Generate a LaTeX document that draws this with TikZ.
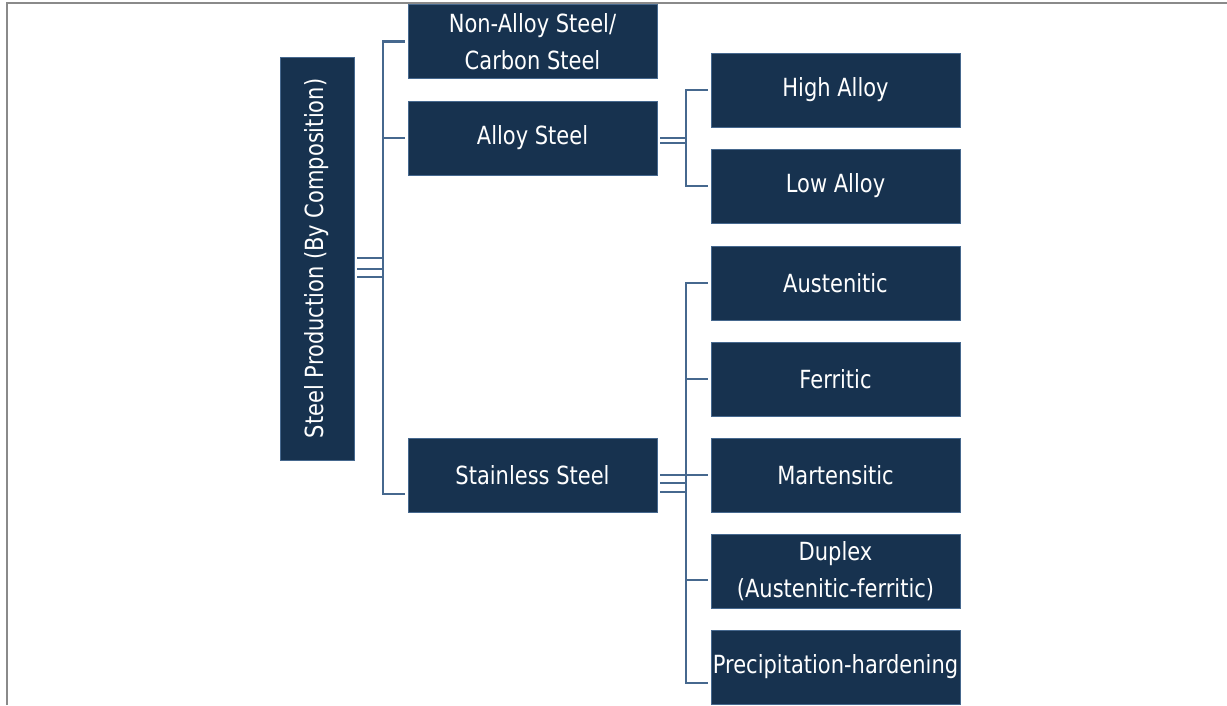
\documentclass[tikz,border=0pt]{standalone}
\usepackage{fontspec}
\setmainfont{DejaVu Sans}[FakeStretch=0.84]
\usepackage{tikz}
\definecolor{navy}{HTML}{17324F}
\definecolor{edge}{HTML}{46688E}
\definecolor{framegray}{HTML}{8A8A8A}
\tikzset{
  box/.style={fill=navy,draw=edge,line width=0.6pt,text=white,
    minimum width=249pt,minimum height=74pt,inner sep=0pt,align=center,
    font=\fontsize{25}{37}\selectfont},
  link/.style={draw=edge,line width=2.2pt},
}

\begin{document}
\begin{tikzpicture}[x=1pt,y=-1pt]
\useasboundingbox (0,0) rectangle (1227,705);
\draw[framegray,line width=2pt] (7,705) -- (7,3) -- (1227,3);
%Boxes
\node[box,minimum width=74pt,minimum height=403pt] (root) at (317,258.5)
  {\rotatebox{90}{Steel Production (By Composition)}};
\node[box] (nonalloy) at (532.5,41.5) {Non-Alloy Steel/\\Carbon Steel};
\node[box] (alloy) at (532.5,138) {Alloy Steel};
\node[box] (stainless) at (532.5,475) {Stainless Steel};
\node[box] (high) at (835.5,90) {High Alloy};
\node[box] (low) at (835.5,186) {Low Alloy};
\node[box] (aust) at (835.5,283) {Austenitic};
\node[box] (ferr) at (835.5,379) {Ferritic};
\node[box] (mart) at (835.5,475) {Martensitic};
\node[box] (dup) at (835.5,571) {Duplex\\(Austenitic-ferritic)};
\node[box] (prec) at (835.5,667) {Precipitation-hardening};
%Spines
\coordinate (s1) at (383,268);
\coordinate (s2) at (686,140);
\coordinate (s3) at (686,483);
%Root links
\draw[link] ([xshift=-3pt]nonalloy.west) -| (s1) |- ([xshift=-3pt,yshift=-19pt]stainless.west);
\draw[link] ([xshift=-3pt]alloy.west) -- (alloy.west -| s1);
\foreach \y in {258.3,269.3,277.3}
  \draw[link] (root.east |- 0,\y) ++(3,0) -- (s1 |- 0,\y);
%Alloy links
\draw[link] ([xshift=-3pt]high.west) -| (s2) |- ([xshift=-3pt]low.west);
\foreach \y in {138.3,142.7}
  \draw[link] (alloy.east |- 0,\y) ++(3,0) -- (s2 |- 0,\y);
%Stainless links
\draw[link] ([xshift=-3pt]aust.west) -| (s3) |- ([xshift=-3pt,yshift=-16pt]prec.west);
\draw[link] ([xshift=-3pt]ferr.west) -- (ferr.west -| s3);
\draw[link] ([xshift=-3pt]dup.west) ++(0,9) -- (s3 |- 0,580);
\draw[link] (stainless.east) ++(3,0) -- ([xshift=-3pt]mart.west);
\foreach \y in {483,491.7}
  \draw[link] (stainless.east |- 0,\y) ++(3,0) -- (s3 |- 0,\y);
\end{tikzpicture}
\end{document}
